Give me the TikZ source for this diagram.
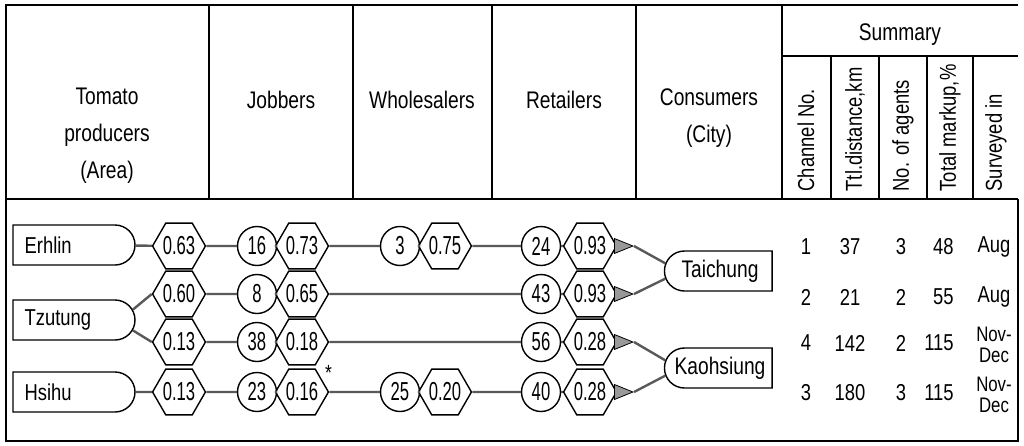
\documentclass[tikz,border=0pt]{standalone}
\usepackage{fontspec}
\setmainfont[FakeStretch=0.8]{Liberation Sans}
\newfontfamily\numfont[FakeStretch=0.64]{Liberation Sans}
\usetikzlibrary{arrows.meta,calc,positioning,shapes.geometric,shapes.misc}

\begin{document}
\begin{tikzpicture}[x=0.5pt,y=-0.5pt,line width=0.7pt,
        hdr/.style={font=\fontsize{12}{18.5}\selectfont,align=center},
        vhdr/.style={font=\fontsize{11.5}{12}\selectfont,rotate=90,anchor=west,inner sep=0pt},
        val/.style={font=\fontsize{11.5}{12}\selectfont},
        mon/.style={font=\fontsize{10.5}{10.5}\selectfont,align=center,inner sep=0pt},
        area/.style={draw,rounded rectangle,rounded rectangle west arc=none,minimum width=61pt,minimum height=20pt,inner sep=0pt},
        city/.style={draw,rounded rectangle,rounded rectangle east arc=none,minimum width=60.5pt,minimum height=20pt,font=\fontsize{12}{12}\selectfont},
        agent/.style={draw,circle,minimum size=19.5pt,inner sep=0pt,font=\numfont\fontsize{13}{13}\selectfont},
        ratio/.style={draw,regular polygon,regular polygon sides=6,minimum size=22pt,inner sep=0pt,font=\numfont\fontsize{13}{13}\selectfont},
        link/.style={draw=black!65,line width=1.2pt},
        tri/.style={-{Triangle[length=10pt,width=8pt,color=black,fill=black!40,line width=0.4pt]}}]
    \useasboundingbox (0,0) rectangle (1024,445);
    \draw (1018,199) -- (1018,441) -- (6,441) -- (6,5) -- (1018,5);
    \draw (6,199) -- (1018,199);
    \foreach \cx in {209,353,492,636,782}
        \draw (\cx,5) -- (\cx,199);
    \draw (782,56) -- (1018,56);
    \foreach \cx in {831,879,927,973}
        \draw (\cx,56) -- (\cx,199);

    \node[hdr] (hprod) at (107,136) {Tomato\\producers\\(Area)};
    \node[hdr] (hjob) at (281,100) {Jobbers};
    \node[hdr] (hwhole) at (422,100) {Wholesalers};
    \node[hdr] (hret) at (564,100) {Retailers};
    \node[hdr] (hcons) at (709,118) {Consumers\\(City)};
    \node[hdr] (hsum) at (900,35) {Summary};
    \foreach \cx/\txt in {806/{Channel No.},855/{Ttl.distance,km},903/{No. of agents},950/{Total markup,\%},996/{Surveyed in}}
        \node[vhdr] (v\cx) at (\cx,192) {\txt};

    \node[area,label={[anchor=west,xshift=2.5pt,val]west:Erhlin}] (erh) at (74,245) {};
    \node[area,label={[anchor=west,xshift=2.5pt,val]west:Tzutung}] (tzu) at (74,320) {};
    \node[area,label={[anchor=west,xshift=2.5pt,val]west:Hsihu}] (hsi) at (74,392) {};

    \node[ratio] (p1) at (179,246) {0.63};
    \node[agent] (j1) at (257,246) {16};
    \node[ratio] (jm1) at (302,246) {0.73};
    \node[agent] (w1) at (400,246) {3};
    \node[ratio] (wm1) at (445,246) {0.75};
    \node[agent] (r1) at (541,246) {24};
    \node[ratio] (rm1) at (590,246) {0.93};
    \coordinate (t1) at (634,246);

    \node[ratio] (p2) at (179,294) {0.60};
    \node[agent] (j2) at (257,294) {8};
    \node[ratio] (jm2) at (302,294) {0.65};
    \node[agent] (r2) at (541,294) {43};
    \node[ratio] (rm2) at (590,294) {0.93};
    \coordinate (t2) at (634,294);

    \node[ratio] (p3) at (179,342) {0.13};
    \node[agent] (j3) at (257,342) {38};
    \node[ratio] (jm3) at (302,342) {0.18};
    \node[agent] (r3) at (541,342) {56};
    \node[ratio] (rm3) at (590,342) {0.28};
    \coordinate (t3) at (634,342);

    \node[ratio] (p4) at (179,392) {0.13};
    \node[agent] (j4) at (257,392) {23};
    \node[ratio,label={[inner sep=0.5pt,font=\fontsize{11}{11}\selectfont]25:*}] (jm4) at (302,392) {0.16};
    \node[agent] (w4) at (400,392) {25};
    \node[ratio] (wm4) at (445,392) {0.20};
    \node[agent] (r4) at (541,392) {40};
    \node[ratio] (rm4) at (590,392) {0.28};
    \coordinate (t4) at (634,392);

    \node[city] (tai) at (720,271) {Taichung};
    \node[city] (kao) at (720,368) {Kaohsiung};

    \draw[link] (erh) -- (p1) -- (j1) -- (jm1) -- (w1) -- (wm1) -- (r1) -- (rm1);
    \draw[link] (tzu.10) -- (p2.west);
    \draw[link] (tzu.-10) -- (p3.west);
    \draw[link] (p2) -- (j2) -- (jm2) -- (r2) -- (rm2);
    \draw[link] (p3) -- (j3) -- (jm3) -- (r3) -- (rm3);
    \draw[link] (hsi) -- (p4) -- (j4) -- (jm4) -- (w4) -- (wm4) -- (r4) -- (rm4);
    \foreach \i in {1,2,3,4}
        \draw[link,tri] (rm\i) -- (t\i);
    \draw[link] (t1) -- (tai.172);
    \draw[link] (t2) -- (tai.188);
    \draw[link] (t3) -- (kao.172);
    \draw[link] (t4) -- (kao.188);

    \foreach \ry/\ch/\km/\ag/\mk in {247/1/37/3/48,297/2/21/2/55,343/4/142/2/115,393/3/180/3/115}{
        \node[val] (ch\ry) at (806,\ry) {\ch};
        \node[val] (km\ry) at (850,\ry) {\km};
        \node[val] (ag\ry) at (901,\ry) {\ag};
        \node[val,anchor=east] (mk\ry) at (961,\ry) {\mk};}
    \node[val] (mo247) at (994,247) {Aug};
    \node[val] (mo297) at (994,297) {Aug};
    \node[mon] (mo343) at (994,345) {Nov-\\Dec};
    \node[mon] (mo393) at (994,395) {Nov-\\Dec};
\end{tikzpicture}
\end{document}
